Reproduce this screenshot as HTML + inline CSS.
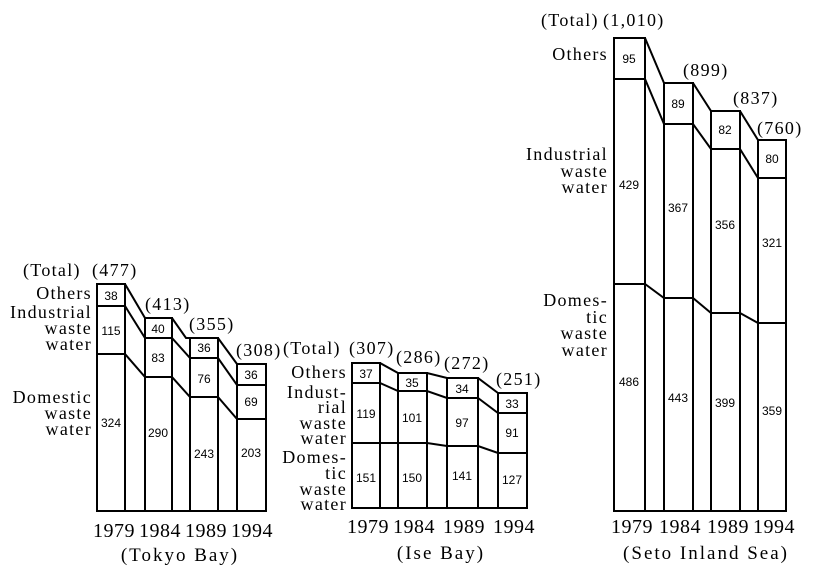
<!DOCTYPE html>
<html><head><meta charset="utf-8"><style>
html,body{margin:0;padding:0;background:#fff}
svg{display:block}
.l{font-family:"Liberation Serif",serif;font-size:18px;letter-spacing:1.3px;fill:#000}
.n{font-family:"Liberation Sans",sans-serif;font-size:12px;fill:#000;text-anchor:middle}
.y{font-family:"Liberation Serif",serif;font-size:20px;letter-spacing:0.5px;fill:#000;text-anchor:middle}
.t{font-family:"Liberation Serif",serif;font-size:19px;letter-spacing:2px;fill:#000;text-anchor:middle}
.r{text-anchor:end}
</style></head><body>
<svg width="813" height="579" viewBox="0 0 813 579" xmlns="http://www.w3.org/2000/svg">
<g fill="none" stroke="#000" stroke-width="2">
<rect x="97" y="284" width="28" height="227"/><rect x="145" y="318" width="27" height="193"/>
<rect x="190" y="338" width="28" height="173"/><rect x="237" y="364" width="29" height="147"/>
<line x1="97" y1="511" x2="266" y2="511"/>
<polyline points="97,284 125,284 145,318 172,318 186,338 190,338 209,338"/>
<polyline points="216,338 218,338 237,364"/>
<polyline points="97,306 125,306 145,338 172,338 190,358 218,358 237,385 266,385"/>
<polyline points="97,354 125,354 145,377 172,377 190,397 218,397 237,419 266,419"/>
<rect x="352" y="363" width="28" height="145"/><rect x="398" y="373" width="29" height="135"/>
<rect x="447" y="378" width="31" height="130"/><rect x="498" y="393" width="29" height="115"/>
<line x1="352" y1="508" x2="527" y2="508"/>
<polyline points="352,363 380,363 398,373 427,373 447,378 478,378 498,393"/>
<polyline points="352,383 380,383 398,391 427,391 447,398 478,398 498,413 527,413"/>
<polyline points="352,443 380,443 398,443 427,443 447,446 478,446 498,453 527,453"/>
<rect x="614" y="38" width="31" height="473"/><rect x="664" y="83" width="29" height="428"/>
<rect x="711" y="111" width="29" height="400"/><rect x="758" y="140" width="28" height="371"/>
<line x1="614" y1="511" x2="786" y2="511"/>
<polyline points="614,38 645,38 664,83 693,83 711,111 740,111 758,140"/>
<polyline points="614,79 645,79 664,124 693,124 711,149 740,149 758,178 786,178"/>
<polyline points="614,284 645,284 664,298 693,298 711,313 740,313 758,323 786,323"/>
</g>
<text class="l" x="23" y="276">(Total)</text><text class="l" x="92" y="276">(477)</text>
<text class="l" x="145" y="310">(413)</text><text class="l" x="189" y="330">(355)</text><text class="l" x="236" y="356">(308)</text>
<text class="l r" x="92" y="299">Others</text>
<text class="l r" x="92" y="318">Industrial</text><text class="l r" x="92" y="334">waste</text><text class="l r" x="92" y="350">water</text>
<text class="l r" x="92" y="403">Domestic</text><text class="l r" x="92" y="419">waste</text><text class="l r" x="92" y="435">water</text>
<text class="n" x="111" y="300">38</text><text class="n" x="111" y="335">115</text><text class="n" x="111" y="427">324</text>
<text class="n" x="158" y="333">40</text><text class="n" x="158" y="362">83</text><text class="n" x="158" y="437">290</text>
<text class="n" x="204" y="352">36</text><text class="n" x="204" y="383">76</text><text class="n" x="204" y="458">243</text>
<text class="n" x="251" y="379">36</text><text class="n" x="251" y="406">69</text><text class="n" x="251" y="457">203</text>
<text class="y" x="114" y="537">1979</text><text class="y" x="160" y="537">1984</text><text class="y" x="206" y="537">1989</text><text class="y" x="252" y="537">1994</text>
<text class="t" x="180" y="561">(Tokyo Bay)</text>
<text class="l" x="283" y="354">(Total)</text><text class="l" x="349" y="354">(307)</text>
<text class="l" x="396" y="363">(286)</text><text class="l" x="444" y="369">(272)</text><text class="l" x="496" y="385">(251)</text>
<text class="l r" x="347" y="378">Others</text>
<text class="l r" x="347" y="398">Indust-</text><text class="l r" x="347" y="413">rial</text><text class="l r" x="347" y="429">waste</text><text class="l r" x="347" y="444">water</text>
<text class="l r" x="347" y="463">Domes-</text><text class="l r" x="347" y="479">tic</text><text class="l r" x="347" y="495">waste</text><text class="l r" x="347" y="510">water</text>
<text class="n" x="366" y="378">37</text><text class="n" x="366" y="418">119</text><text class="n" x="366" y="482">151</text>
<text class="n" x="412" y="387">35</text><text class="n" x="412" y="422">101</text><text class="n" x="412" y="482">150</text>
<text class="n" x="462" y="393">34</text><text class="n" x="462" y="427">97</text><text class="n" x="462" y="480">141</text>
<text class="n" x="512" y="408">33</text><text class="n" x="512" y="437">91</text><text class="n" x="512" y="484">127</text>
<text class="y" x="368" y="533">1979</text><text class="y" x="414" y="533">1984</text><text class="y" x="464" y="533">1989</text><text class="y" x="514" y="533">1994</text>
<text class="t" x="441" y="559">(Ise Bay)</text>
<text class="l" x="541" y="26">(Total)</text><text class="l" x="603" y="26">(1,010)</text>
<text class="l" x="683" y="76">(899)</text><text class="l" x="733" y="104">(837)</text><text class="l" x="757" y="134">(760)</text>
<text class="l r" x="608" y="60">Others</text>
<text class="l r" x="608" y="160">Industrial</text><text class="l r" x="608" y="177">waste</text><text class="l r" x="608" y="193">water</text>
<text class="l r" x="608" y="306">Domes-</text><text class="l r" x="608" y="323">tic</text><text class="l r" x="608" y="339">waste</text><text class="l r" x="608" y="356">water</text>
<text class="n" x="629" y="63">95</text><text class="n" x="629" y="189">429</text><text class="n" x="629" y="386">486</text>
<text class="n" x="678" y="108">89</text><text class="n" x="678" y="212">367</text><text class="n" x="678" y="402">443</text>
<text class="n" x="725" y="134">82</text><text class="n" x="725" y="229">356</text><text class="n" x="725" y="407">399</text>
<text class="n" x="772" y="163">80</text><text class="n" x="772" y="247">321</text><text class="n" x="772" y="415">359</text>
<text class="y" x="632" y="533">1979</text><text class="y" x="680" y="533">1984</text><text class="y" x="728" y="533">1989</text><text class="y" x="774" y="533">1994</text>
<text class="t" x="706" y="559">(Seto Inland Sea)</text>
</svg>
</body></html>
